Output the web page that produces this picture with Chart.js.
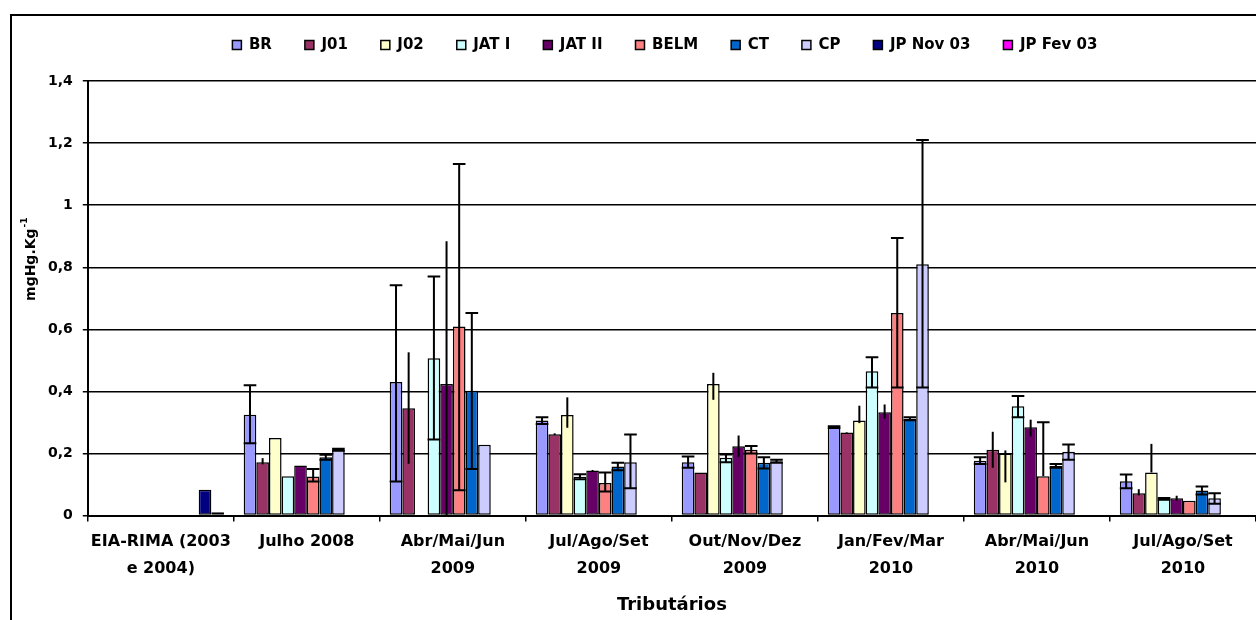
<!DOCTYPE html>
<html><head><meta charset="utf-8">
<script src="https://cdn.jsdelivr.net/npm/chart.js@4.4.1/dist/chart.umd.min.js"></script>
<style>html,body{margin:0;padding:0;background:#fff;overflow:hidden}canvas{display:block}</style>
</head><body>
<canvas id="c" width="1256" height="620"></canvas>
<script>
// ---- data ----
const categories = [["EIA-RIMA (2003","e 2004)"], "Julho 2008", ["Abr/Mai/Jun","2009"], ["Jul/Ago/Set","2009"], ["Out/Nov/Dez","2009"], ["Jan/Fev/Mar","2010"], ["Abr/Mai/Jun","2010"], ["Jul/Ago/Set","2010"]];
const seriesNames = ["BR","J01","J02","JAT I","JAT II","BELM","CT","CP","JP Nov 03","JP Fev 03"];
const yTickLabels = ["0","0,2","0,4","0,6","0,8","1","1,2","1,4"];
const xTitle = "Tributários";
const yTitle = "mgHg.Kg";
const yTitleSup = "-1";

const BR      = [null, 0.325, 0.430, 0.306, 0.172, 0.285, 0.177, 0.111];
const BR_plus = [null, 0.095, 0.312, 0.011, 0.018, 0.003, 0.011, 0.021];
const BR_minus= [null, 0.092, 0.320, 0.011, 0.018, 0.003, 0.011, 0.023];

const J01      = [null, 0.172, 0.346, 0.262, 0.139, 0.268, 0.212, 0.072];
const J01_plus = [null, 0.013, 0.180, 0.003, 0, 0.001, 0.058, 0.013];
const J01_minus= [null, 0.007, 0.179, 0.003, 0, 0.001, 0.058, 0.007];

const J02      = [null, 0.250, null, 0.324, 0.424, 0.306, 0.200, 0.139];
const J02_plus = [null, 0, null, 0.057, 0.036, 0.048, 0.010, 0.092];
const J02_minus= [null, 0, null, 0.041, 0.051, 0.008, 0.093, 0];

const JATI      = [null, 0.127, 0.507, 0.125, 0.186, 0.465, 0.352, 0.054];
const JATI_plus = [null, 0, 0.263, 0.008, 0.011, 0.045, 0.033, 0.003];
const JATI_minus= [null, 0, 0.262, 0.008, 0.014, 0.052, 0.035, 0.003];

const JATII      = [null, 0.161, 0.424, 0.145, 0.223, 0.333, 0.285, 0.056];
const JATII_plus = [null, 0, 0.460, 0.002, 0.035, 0.025, 0.024, 0.008];
const JATII_minus= [null, 0, 0.424, 0.002, 0.035, 0.021, 0.030, 0.008];

const BELM      = [null, 0.126, 0.609, 0.105, 0.212, 0.653, 0.127, 0.048];
const BELM_plus = [null, 0.024, 0.524, 0.034, 0.012, 0.241, 0.174, 0];
const BELM_minus= [null, 0.016, 0.527, 0.027, 0.012, 0.240, 0, 0];

const CT      = [null, 0.188, 0.402, 0.158, 0.170, 0.312, 0.160, 0.081];
const CT_plus = [null, 0.008, 0.251, 0.012, 0.018, 0.005, 0.006, 0.013];
const CT_minus= [null, 0.008, 0.252, 0.012, 0.018, 0.005, 0.006, 0.013];

const CP      = [null, 0.212, 0.228, 0.172, 0.175, 0.810, 0.206, 0.056];
const CP_plus = [null, 0.003, 0, 0.089, 0.005, 0.400, 0.023, 0.016];
const CP_minus= [null, 0.003, 0, 0.084, 0.005, 0.397, 0.026, 0.018];

const JPNov03 = [0.083, null, null, null, null, null, null, null];
const JPFev03 = [0.011, null, null, null, null, null, null, null];
const noErr   = [0, 0, 0, 0, 0, 0, 0, 0];

// ---- styles ----
const seriesColors = ["#9999FF","#993366","#FFFFCC","#CCFFFF","#660066","#FF8080","#0066CC","#CCCCFF","#000080","#FF00FF"];
const seriesCaps = [true, false, false, true, false, true, true, true, false, false];
const seriesValues = [BR, J01, J02, JATI, JATII, BELM, CT, CP, JPNov03, JPFev03];
const seriesPlus  = [BR_plus, J01_plus, J02_plus, JATI_plus, JATII_plus, BELM_plus, CT_plus, CP_plus, noErr, noErr];
const seriesMinus = [BR_minus, J01_minus, J02_minus, JATI_minus, JATII_minus, BELM_minus, CT_minus, CP_minus, noErr, noErr];

const FONT = "'DejaVu Sans', 'Liberation Sans', sans-serif";
Chart.defaults.font.family = FONT;
Chart.defaults.font.weight = 'bold';
Chart.defaults.color = '#000';

const datasets = seriesNames.map((name, i) => ({
  label: name,
  data: seriesValues[i],
  backgroundColor: seriesColors[i],
  borderColor: '#000',
  borderWidth: 1.5,
  borderSkipped: false,
  errPlus: seriesPlus[i],
  errMinus: seriesMinus[i],
  errCaps: seriesCaps[i]
}));

const framePlugin = {
  id: 'frame',
  beforeDraw(chart) {
    const ctx = chart.ctx;
    ctx.save();
    ctx.fillStyle = '#fff';
    ctx.fillRect(0, 0, chart.width, chart.height);
    ctx.strokeStyle = '#000';
    ctx.lineWidth = 2;
    ctx.beginPath();
    ctx.moveTo(11, chart.height + 5);
    ctx.lineTo(11, 15);
    ctx.lineTo(chart.width + 5, 15);
    ctx.stroke();
    ctx.restore();
  }
};

const legendMargin = {
  id: 'legendMargin',
  beforeInit(chart) {
    const orig = chart.legend.fit;
    chart.legend.fit = function () { orig.bind(chart.legend)(); this.height += 18.5; };
  },
  afterLayout(chart) {
    const lg = chart.legend, ca = chart.chartArea;
    const target = (ca.left + ca.right) / 2 - 7;
    const d = target - (lg.left + lg.right) / 2;
    lg.left += d; lg.right += d;
  }
};

const errorBars = {
  id: 'errorBars',
  afterDatasetsDraw(chart) {
    const ctx = chart.ctx, ys = chart.scales.y;
    chart.data.datasets.forEach((ds, i) => {
      const meta = chart.getDatasetMeta(i);
      meta.data.forEach((bar, j) => {
        const v = ds.data[j];
        if (v == null) return;
        const up = ds.errPlus[j] || 0, dn = ds.errMinus[j] || 0;
        if (!up && !dn) return;
        const x = bar.x, w = bar.width;
        const yTop = ys.getPixelForValue(v + up);
        const lo = Math.max(0, v - dn);
        const yBot = ys.getPixelForValue(lo);
        ctx.save();
        ctx.strokeStyle = '#000';
        ctx.lineWidth = 2;
        ctx.beginPath();
        ctx.moveTo(x, yTop); ctx.lineTo(x, yBot);
        if (ds.errCaps) {
          if (up) { ctx.moveTo(x - w / 2, yTop); ctx.lineTo(x + w / 2, yTop); }
          if (dn && lo > 0) { ctx.moveTo(x - w / 2, yBot); ctx.lineTo(x + w / 2, yBot); }
        }
        ctx.stroke();
        ctx.restore();
      });
    });
  }
};

const yTitlePlugin = {
  id: 'yTitle',
  afterDraw(chart) {
    const ctx = chart.ctx, ca = chart.chartArea;
    ctx.save();
    const mainFont = "bold 14px " + FONT, supFont = "bold 9px " + FONT;
    ctx.font = mainFont; const w1 = ctx.measureText(yTitle).width;
    ctx.font = supFont; const w2 = ctx.measureText(yTitleSup).width;
    const total = w1 + w2 + 1;
    ctx.translate(31, ca.top + (ca.bottom - ca.top) * 0.41);
    ctx.rotate(-Math.PI / 2);
    ctx.fillStyle = '#000';
    ctx.textBaseline = 'middle';
    ctx.textAlign = 'left';
    ctx.font = mainFont;
    ctx.fillText(yTitle, -total / 2, 0);
    ctx.font = supFont;
    ctx.fillText(yTitleSup, -total / 2 + w1 + 1, -6);
    ctx.restore();
  }
};

new Chart(document.getElementById('c'), {
  type: 'bar',
  data: { labels: categories, datasets },
  options: {
    responsive: false,
    animation: false,
    devicePixelRatio: 1,
    layout: { padding: { left: 38, top: 4.5, right: 0, bottom: 1.6 } },
    datasets: { bar: { categoryPercentage: 0.865, barPercentage: 1 } },
    plugins: {
      legend: {
        position: 'top',
        labels: { boxWidth: 9, boxHeight: 9, padding: 33, color: '#000', font: { size: 15, weight: 'bold' } }
      },
      title: { display: false },
      tooltip: { enabled: false }
    },
    scales: {
      x: {
        offset: true,
        grid: { display: true, drawOnChartArea: false, drawTicks: true, tickLength: 6, color: '#000', lineWidth: 1.5, offset: true },
        border: { display: true, color: '#000', width: 2 },
        ticks: { autoSkip: false, maxRotation: 0, minRotation: 0, padding: 6.4, color: '#000', font: { size: 16, weight: 'bold', lineHeight: 1.7 } },
        title: { display: true, text: xTitle, color: '#000', font: { size: 18, weight: 'bold', lineHeight: 1.2 }, padding: { top: 6, bottom: 2 } }
      },
      y: {
        min: 0, max: 1.4,
        grid: { color: '#000', lineWidth: 1.5, drawTicks: true, tickLength: 5 },
        border: { display: true, color: '#000', width: 2 },
        ticks: {
          stepSize: 0.2, padding: 10, color: '#000',
          font: { size: 14, weight: 'bold' },
          callback: (value) => yTickLabels[Math.round(value / 0.2)]
        }
      }
    }
  },
  plugins: [framePlugin, legendMargin, errorBars, yTitlePlugin]
});
</script>
</body></html>
